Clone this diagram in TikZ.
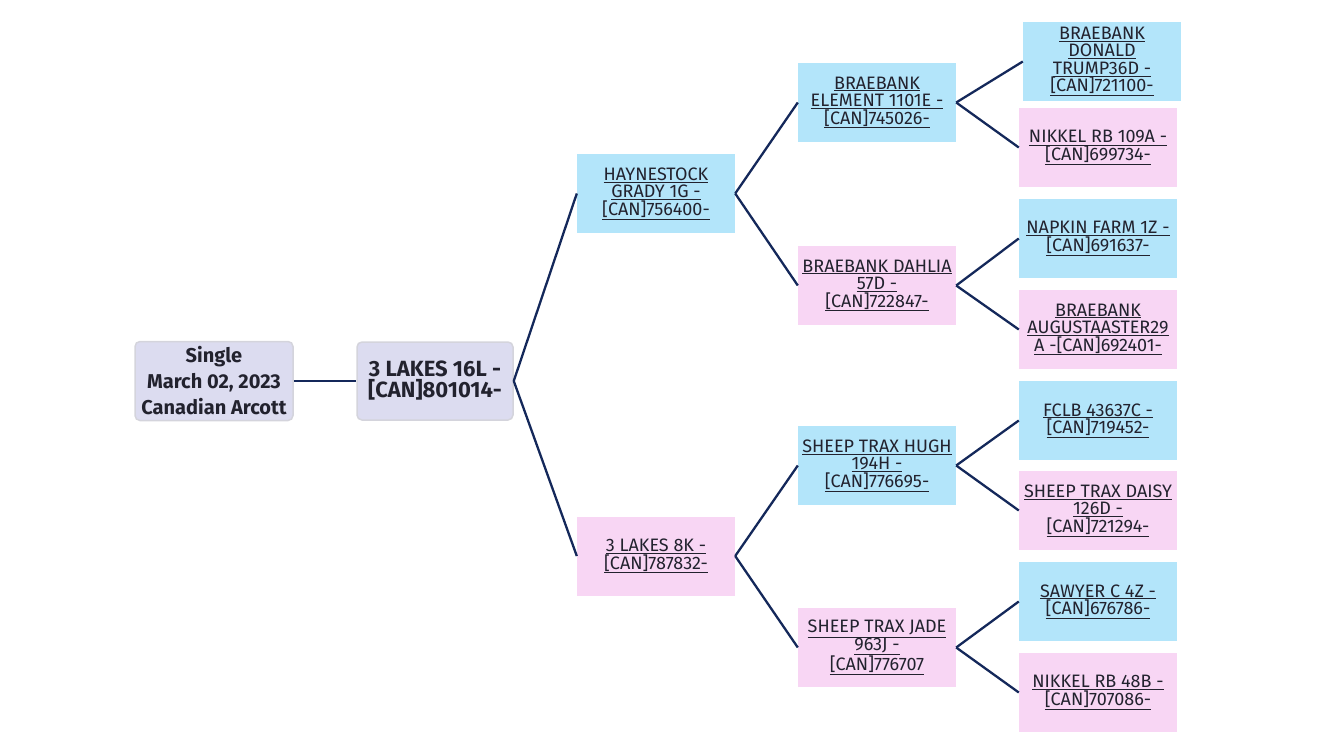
\documentclass[tikz,border=0pt]{standalone}
\usepackage{fontspec}
\setmainfont{Fira Sans}
\definecolor{sireblue}{HTML}{B3E5FA}
\definecolor{dampink}{HTML}{F8D6F4}
\definecolor{toplav}{HTML}{DCDCF0}
\definecolor{topline}{HTML}{D4D4DC}
\definecolor{linkline}{HTML}{14285A}
\definecolor{txt}{HTML}{22222E}
\newcommand{\ul}[1]{\underline{#1}}
\tikzset{
  box/.style={rectangle,inner sep=0pt,minimum width=158pt,minimum height=79pt,
    align=center,text=txt,font=\fontsize{18}{17.5}\selectfont},
  sire/.style={box,fill=sireblue},
  dam/.style={box,fill=dampink},
  topbox/.style={box,fill=toplav,draw=topline,line width=1.5pt,rounded corners=5pt},
  link/.style={draw=linkline,line width=2.3pt}
}
\begin{document}
\begin{tikzpicture}[x=1pt,y=-1pt]
	\useasboundingbox (0,0) rectangle (1334,750);
	\path (214,381) node(single)[topbox,font=\bfseries\fontsize{20}{26}\selectfont]{Single\\March 02, 2023\\Canadian Arcott}
	(435,381) node(root)[topbox,minimum width=156pt,minimum height=78pt,font=\bfseries\fontsize{22}{21}\selectfont]{3 LAKES 16L -\\{}[CAN]801014-}
	(656,193.5) node(hay)[sire]{\ul{HAYNESTOCK}\\\ul{GRADY 1G -}\\\ul{[CAN]756400-}}
	(656,556) node(lk)[dam]{\ul{3 LAKES 8K -}\\\ul{[CAN]787832-}}
	(877,102.5) node(elem)[sire]{\ul{BRAEBANK}\\\ul{ELEMENT 1101E -}\\\ul{[CAN]745026-}}
	(877,285.5) node(dahl)[dam]{\ul{BRAEBANK DAHLIA}\\\ul{57D -}\\\ul{[CAN]722847-}}
	(877,465.5) node(hugh)[sire]{\ul{SHEEP TRAX HUGH}\\\ul{194H -}\\\ul{[CAN]776695-}}
	(877,647.5) node(jade)[dam]{\ul{SHEEP TRAX JADE}\\\ul{963J -}\\\ul{[CAN]776707}}
	(1102,61.5) node(don)[sire]{\ul{BRAEBANK}\\\ul{DONALD}\\\ul{TRUMP36D -}\\\ul{[CAN]721100-}}
	(1098,147.5) node(nikA)[dam]{\ul{NIKKEL RB 109A -}\\\ul{[CAN]699734-}}
	(1098,238.5) node(nap)[sire]{\ul{NAPKIN FARM 1Z -}\\\ul{[CAN]691637-}}
	(1098,329.5) node(aug)[dam]{\ul{BRAEBANK}\\\ul{AUGUSTAASTER29}\\\ul{A -[CAN]692401-}}
	(1098,420.5) node(fclb)[sire]{\ul{FCLB 43637C -}\\\ul{[CAN]719452-}}
	(1098,510.5) node(daisy)[dam]{\ul{SHEEP TRAX DAISY}\\\ul{126D -}\\\ul{[CAN]721294-}}
	(1098,601.5) node(saw)[sire]{\ul{SAWYER C 4Z -}\\\ul{[CAN]676786-}}
	(1098,692.5) node(nikB)[dam]{\ul{NIKKEL RB 48B -}\\\ul{[CAN]707086-}};
	% connectors
	\draw[link](single.east)--(root.west);
	\draw[link](root.east)--(hay.west);
	\draw[link](root.east)--(lk.west);
	\draw[link](hay.east)--(elem.west);
	\draw[link](hay.east)--(dahl.west);
	\draw[link](lk.east)--(hugh.west);
	\draw[link](lk.east)--(jade.west);
	\draw[link](elem.east)--(don.west);
	\draw[link](elem.east)--(nikA.west);
	\draw[link](dahl.east)--(nap.west);
	\draw[link](dahl.east)--(aug.west);
	\draw[link](hugh.east)--(fclb.west);
	\draw[link](hugh.east)--(daisy.west);
	\draw[link](jade.east)--(saw.west);
	\draw[link](jade.east)--(nikB.west);
\end{tikzpicture}
\end{document}
